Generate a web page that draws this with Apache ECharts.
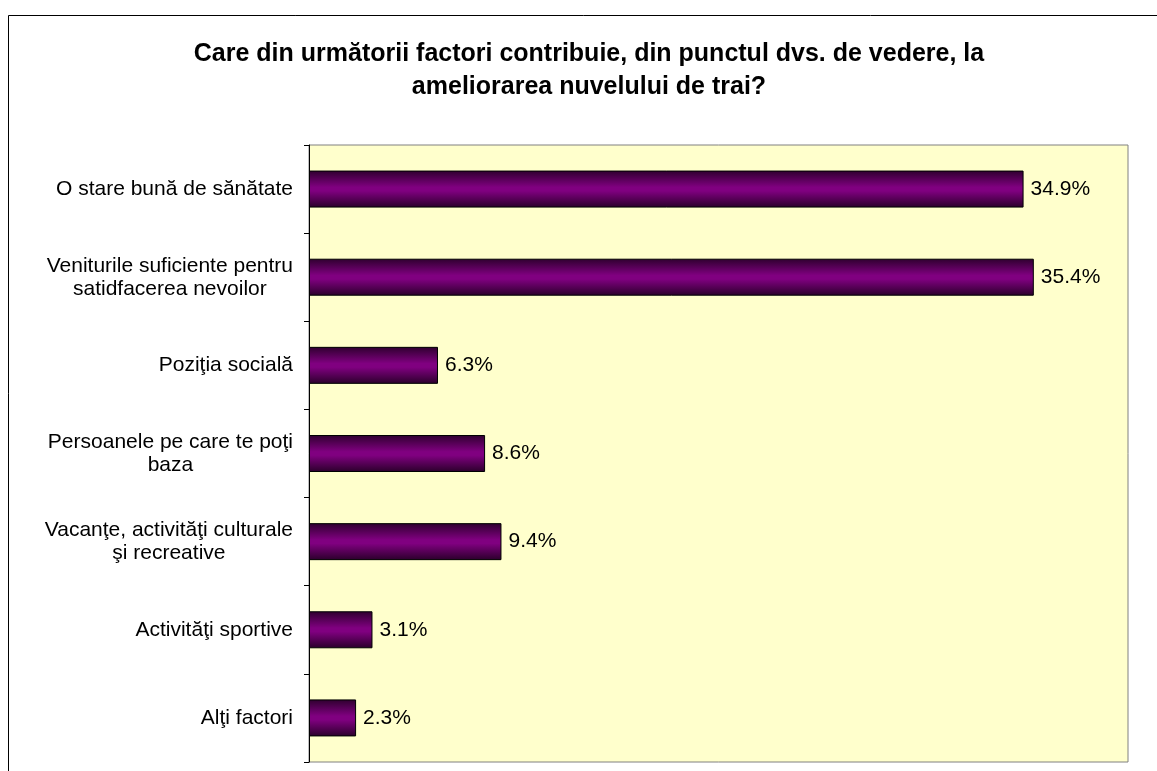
<!DOCTYPE html>
<html>
<head>
<meta charset="utf-8">
<script src="https://cdn.jsdelivr.net/npm/echarts@6/dist/echarts.min.js"></script>
<style>html,body{margin:0;padding:0;background:#fff;}#c{width:1157px;height:771px;}</style>
</head>
<body>
<div id="c"></div>
<script>
const titleText = 'Care din următorii factori contribuie, din punctul dvs. de vedere, la\nameliorarea nuvelului de trai?';
const categories = [
  'O stare bună de sănătate',
  'Veniturile suficiente pentru\nsatidfacerea nevoilor',
  'Poziţia socială',
  'Persoanele pe care te poţi\nbaza',
  'Vacanţe, activităţi culturale\nşi recreative',
  'Activităţi sportive',
  'Alţi factori'
];
const values = [34.9, 35.4, 6.3, 8.6, 9.4, 3.1, 2.3];
const axisMax = 40;

const FONT = '"Liberation Sans", Arial, sans-serif';
const chart = echarts.init(document.getElementById('c'), null, {renderer: 'canvas'});
chart.setOption({
  backgroundColor: '#ffffff',
  animation: false,
  graphic: [{
    type: 'rect', silent: true, z: -1,
    shape: {x: 8.5, y: 15.5, width: 1200, height: 800},
    style: {fill: 'none', stroke: '#000', lineWidth: 1}
  }],
  title: {
    text: titleText,
    left: 584, top: 33, textAlign: 'center',
    textStyle: {fontFamily: FONT, fontSize: 25, fontWeight: 'bold', color: '#000', lineHeight: 33}
  },
  grid: {
    left: 309, top: 145, right: 29, bottom: 9,
    show: true, backgroundColor: '#ffffcc', borderColor: '#808080', borderWidth: 1
  },
  xAxis: {
    type: 'value', min: 0, max: axisMax,
    axisLine: {show: false}, axisTick: {show: false}, axisLabel: {show: false}, splitLine: {show: false}
  },
  yAxis: {
    type: 'category', data: categories, inverse: true,
    axisLine: {show: true, lineStyle: {color: '#000', width: 1}},
    axisTick: {show: true, length: 5, lineStyle: {color: '#000'}},
    axisLabel: {
      margin: 16, align: 'right',
      formatter: function (v) { return v.split('\n').map(s => '{c|' + s + '}').join('\n'); },
      rich: {c: {align: 'center', fontFamily: FONT, fontSize: 21, color: '#000', lineHeight: 23}}
    }
  },
  series: [{
    type: 'bar', data: values, barWidth: 37,
    itemStyle: {
      borderColor: '#000', borderWidth: 1,
      color: new echarts.graphic.LinearGradient(0, 0, 0, 1, [
        {offset: 0, color: '#2e002e'},
        {offset: 0.45, color: '#800080'},
        {offset: 0.55, color: '#800080'},
        {offset: 1, color: '#2a002a'}
      ])
    },
    label: {
      show: true, position: 'right', distance: 7,
      formatter: p => p.value.toFixed(1) + '%',
      fontFamily: FONT, fontSize: 21, color: '#000'
    }
  }]
});
</script>
</body>
</html>
